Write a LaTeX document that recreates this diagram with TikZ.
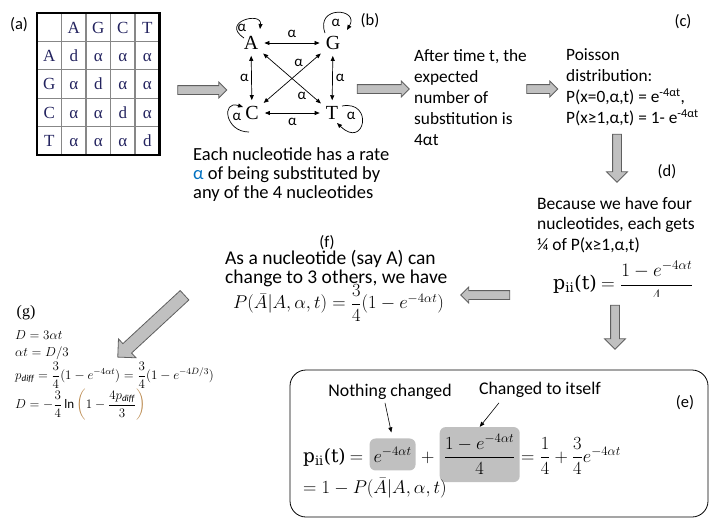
\RequirePackage{fix-cm}
\documentclass[tikz,border=0pt]{standalone}
\usepackage{amsmath,amssymb}
\usepackage{fontspec}
\setmainfont{Carlito}
\newfontfamily\tms{Liberation Serif}
\newfontfamily\wideserif{DejaVu Serif}
\usetikzlibrary{shapes,arrows,positioning,calc,arrows.meta}

\definecolor{navy}{RGB}{35,35,95}
\definecolor{boxgray}{RGB}{192,192,192}
\definecolor{rimgray}{RGB}{95,95,95}
\definecolor{gridgray}{RGB}{135,135,135}
\definecolor{alphablue}{RGB}{0,112,192}
\definecolor{parenbrown}{RGB}{185,135,75}

\newcommand{\pii}{{\wideserif p\textsubscript{ii}(t)}}

\tikzset{
  fat/.style={single arrow, draw=rimgray, fill=boxgray, line width=0.8pt, inner xsep=0pt, inner ysep=4pt, minimum width=0pt, single arrow head extend=3.5pt},
  cell/.style={font=\tms\fontsize{17}{17}\selectfont, text=navy, inner sep=0pt, anchor=base},
  nuc/.style={font=\tms\fontsize{20}{20}\selectfont, inner sep=1pt},
  link/.style={<->, line width=0.7pt, shorten >=5pt, shorten <=5pt},
  rate/.style={font=\fontsize{15}{15}\selectfont, inner sep=1.5pt},
  tag/.style={font=\fontsize{16.5}{16.5}\selectfont, inner sep=0pt},
  prose/.style={align=left, inner sep=0pt, anchor=base west},
  eqn/.style={font=\fontsize{18.5}{22}\selectfont, inner sep=0pt},
  geq/.style={font=\fontsize{13}{15}\selectfont, inner sep=0pt, anchor=west},
  hl/.style={fill=boxgray, rounded corners=6pt, inner sep=0pt},
}

\begin{document}
\begin{tikzpicture}[x=1pt, y=-1pt, >={Triangle[length=5pt,width=4pt]}]
    \useasboundingbox (0,0) rectangle (714,528);

    % (a) rate matrix
    \node[tag] (taga) at (19,25) {(a)};
    \foreach \i in {1,...,4} {
        \draw[gridgray, line width=1.3pt] (37+24.5*\i,13) -- (37+24.5*\i,155);
        \draw[gridgray, line width=1.3pt] (37,13+28.4*\i) -- (159.5,13+28.4*\i);
    }
    \draw[line width=2.2pt] (37,13) rectangle (159.5,155);
    \foreach \b [count=\i] in {A,G,C,T} {
        \node[cell] (col\b) at (49.25+24.5*\i,33) {\b};
        \node[cell] (row\b) at (49.25,33+28.4*\i) {\b};
        \foreach \j in {1,...,4}
            \node[cell] (m\i\j) at (49.25+24.5*\j,33+28.4*\i) {\ifnum\i=\j d\else α\fi};
    }

    % (b) substitution graph
    \node[tag] (tagb) at (370,21) {(b)};
    \node[nuc] (A) at (251,43) {A};
    \node[nuc] (G) at (333,43) {G};
    \node[nuc] (C) at (252,113) {C};
    \node[nuc] (T) at (332,113) {T};
    \draw[link] (A) -- (G) node[rate, midway, above=4pt] {α};
    \draw[link] (C) -- (T) node[rate, midway, below=3pt] {α};
    \draw[link] (A) -- (C) node[rate, midway, left=1pt] {α};
    \draw[link] (G) -- (T) node[rate, midway, right=1.5pt] {α};
    \draw[link] (G) -- (C) node[rate, pos=0.4, above=4pt] {α};
    \draw[link] (A) -- (T) node[rate, pos=0.65, below=3pt] {α};
    % self loops
    \draw[->, line width=0.7pt] ($(A)+(-7,-5)$) .. controls +(-24,-16) and +(2,-18) .. ($(A)+(9,-14)$);
    \draw[->, line width=0.7pt] ($(G)+(-8,-10)$) .. controls +(-10,-28) and +(13,-22) .. ($(G)+(14,-13)$);
    \draw[->, line width=0.7pt] ($(C)+(-3,19)$) .. controls +(-24,0) and +(-22,-7) .. ($(C)+(-9,-6)$);
    \draw[->, line width=0.7pt] ($(T)+(10,-7)$) .. controls +(32,-6) and +(28,27) .. ($(T)+(5,10)$);
    \node[rate] (la) at (242,28) {α};
    \node[rate] (lg) at (336,23) {α};
    \node[rate] (lc) at (237,117) {α};
    \node[rate] (lt) at (351,116) {α};
    \node[prose, font=\fontsize{18.5}{19.3}\selectfont] (capb) at (193,198.6)
        {Each nucleotide has a rate\\\textcolor{alphablue}{α} of being substituted by\\any of the 4 nucleotides};

    % (c) expected number and Poisson
    \node[tag] (tagc) at (683,22) {(c)};
    \node[prose, font=\fontsize{17.3}{21.2}\selectfont] (expt) at (414,145.8)
        {After time t, the\\expected\\number of\\substitution is\\4αt};
    \node[prose, font=\fontsize{17.3}{21.2}\selectfont] (pois) at (566,123.6)
        {Poisson\\distribution:\\P(x=0,α,t) = e\textsuperscript{-4αt},\\P(x≥1,α,t) = 1- e\textsuperscript{-4αt}};

    % (d) a quarter each
    \node[tag] (tagd) at (667,172) {(d)};
    \node[prose, font=\fontsize{17.5}{20.5}\selectfont] (quart) at (537,250)
        {Because we have four\\nucleotides, each gets\\¼ of P(x≥1,α,t)};
    \begin{scope}
        \clip (530,255) rectangle (714,296);
        \node[eqn, font=\fontsize{19}{22}\selectfont, anchor=west] (pd) at (553,282) {\pii{} $= \dfrac{1-e^{-4\alpha t}}{4}$};
    \end{scope}

    % (f) three others
    \node[tag] (tagf) at (327,243) {(f)};
    \node[prose, font=\fontsize{19.5}{19}\selectfont] (three) at (225,283)
        {As a nucleotide (say A) can\\change to 3 others, we have};
    \node[eqn, anchor=west] (pf) at (233,303) {$P(\bar{A}|A,\alpha,t) = \dfrac{3}{4}(1-e^{-4\alpha t})$};

    % (g) distance
    \node[font=\tms\fontsize{16}{16}\selectfont, inner sep=0pt] (tagg) at (26,313) {(g)};
    \node[geq] (g1) at (15,335) {$D = 3\alpha t$};
    \node[geq] (g2) at (15,353) {$\alpha t = D/3$};
    \node[geq] (g3) at (15,375)
        {$p_{\mathit{diff}} = \dfrac{3}{4}(1-e^{-4\alpha t}) = \dfrac{3}{4}(1-e^{-4D/3})$};
    \node[geq] (g4) at (15,405)
        {$D = -\dfrac{3}{4}\ln\color{parenbrown}\left(\color{black}1-\dfrac{4p_{\mathit{diff}}}{3}\color{parenbrown}\right)$};

    % (e) the diagonal term
    \node[draw, line width=0.8pt, rounded corners=16pt, minimum width=418pt, minimum height=147pt] (ebox) at (499,443.5) {};
    \node[tag] (tage) at (685,403) {(e)};
    \node[tag, font=\fontsize{17.8}{17.8}\selectfont] (nc) at (390,392) {Nothing changed};
    \node[tag, font=\fontsize{17.8}{17.8}\selectfont] (cti) at (540,390) {Changed to itself};
    \node[eqn, anchor=base west] (pii) at (303,462) {\pii{} $=$};
    \node[eqn, hl, minimum width=46pt, minimum height=32pt, base right=6pt of pii] (hl1) {$e^{-4\alpha t}$};
    \node[eqn, base right=5pt of hl1] (plus) {$+$};
    \node[eqn, hl, minimum width=80pt, minimum height=55pt, base right=5pt of plus] (hl2) {$\dfrac{1-e^{-4\alpha t}}{4}$};
    \node[eqn, base right=1pt of hl2] (rest) {$= \dfrac{1}{4} + \dfrac{3}{4}e^{-4\alpha t}$};
    \node[eqn, anchor=base west] (pbar) at (303,493) {$= 1 - P(\bar{A}|A,\alpha,t)$};
    \draw[->, line width=0.6pt, shorten >=6pt] ([xshift=-5pt,yshift=-3pt]nc.south) -- (hl1.north);
    \draw[->, line width=0.6pt] ([xshift=20pt,yshift=-5pt]cti.south west) -- (hl2.north);

    % block arrows
    \node[fat, minimum height=49pt] (ab) at (200,90) {};
    \node[fat, minimum height=52pt] (bc) at (381,89) {};
    \node[fat, minimum height=31pt] (cc) at (540,89) {};
    \node[fat, minimum height=48pt, rotate=-90, single arrow head extend=6pt] (cd) at (617,156) {};
    \node[fat, minimum height=44pt, rotate=-90, single arrow head extend=6pt] (de) at (615,325) {};
    \node[fat, minimum height=49pt, rotate=180] (df) at (487.5,295) {};
    \node[fat, minimum height=91pt, rotate=222.8, inner ysep=6pt, single arrow head extend=6.5pt] (fg) at (153.5,324) {};
\end{tikzpicture}
\end{document}
